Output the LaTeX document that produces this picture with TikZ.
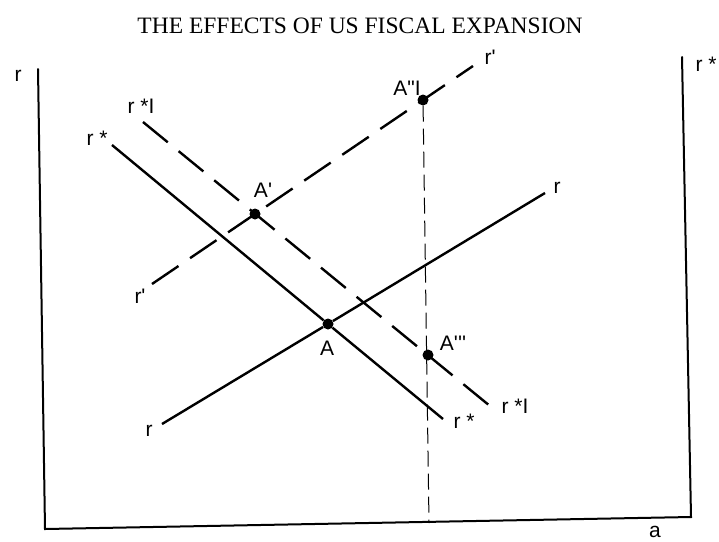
\documentclass[tikz,border=0pt]{standalone}
\usepackage{fontspec}
\setmainfont{Liberation Serif}
\newfontfamily\labfont{Liberation Sans}
\begin{document}
\begin{tikzpicture}[x=1pt,y=-1pt,
  axis/.style={line width=2pt,line cap=round},
  curve/.style={line width=2.4pt},
  dcurve/.style={line width=2.4pt,dash pattern=on 32pt off 14pt},
  guide/.style={line width=1pt,dash pattern=on 16pt off 7pt},
  pt/.style={circle,fill=black,inner sep=0pt,minimum size=11pt},
  lab/.style={font=\labfont\fontsize{21}{21}\selectfont,inner sep=0pt}]
\useasboundingbox (0,0) rectangle (719,541);
\fill[white] (0,0) rectangle (719,541);
\node[font=\fontsize{23.5}{23.5}\selectfont] (title) at (360,26) {THE EFFECTS OF US FISCAL EXPANSION};
% axes
\coordinate (ltop) at (38,69);
\coordinate (orig) at (45,529);
\coordinate (rbot) at (691,517);
\coordinate (rtop) at (682,57);
\draw[axis] (ltop) -- (orig) -- (rbot) -- (rtop);
\node[lab] (lr) at (18,76) {r};
\node[lab] (rr) at (706,64) {r *};
\node[lab] (la) at (655,532) {a};
% points
\node[pt] (A) at (328,324) {};
\node[pt] (A1) at (255,214) {};
\node[pt] (A2) at (423,100) {};
\node[pt] (A3) at (428,355) {};
\coordinate (G) at (429,523);
% line ends
\coordinate (rs) at (162,424);
\coordinate (re) at (545,193);
\coordinate (r1s) at (152,284);
\coordinate (r1e) at (473,66);
\coordinate (ss) at (112,145);
\coordinate (se) at (443,419);
\coordinate (s1s) at (143,122);
\coordinate (s1e) at (490,406);
\draw[curve] (rs) -- (A) -- (re);
\draw[curve] (ss) -- (A) -- (se);
\draw[dcurve] (r1s) -- (r1e);
\draw[dcurve] (s1s) -- (s1e);
\draw[guide] (A2) -- (G);
% labels
\node[lab] (lA) at (327,348) {A};
\node[lab] (lA1) at (263,190) {A\textquotesingle};
\node[lab] (lA2) at (407,88) {A\textquotedbl I};
\node[lab] (lA3) at (453,343) {A\textquotesingle\textquotesingle\textquotesingle};
\node[lab] (lr1) at (149,431) {r};
\node[lab] (lr2) at (557,188) {r};
\node[lab] (lr3) at (490,57) {r\textquotesingle};
\node[lab] (lr4) at (140,296) {r\textquotesingle};
\node[lab] (ls1) at (97,138) {r *};
\node[lab] (ls2) at (141,106) {r *I};
\node[lab] (ls3) at (464,421) {r *};
\node[lab] (ls4) at (515,406) {r *I};
\end{tikzpicture}
\end{document}
